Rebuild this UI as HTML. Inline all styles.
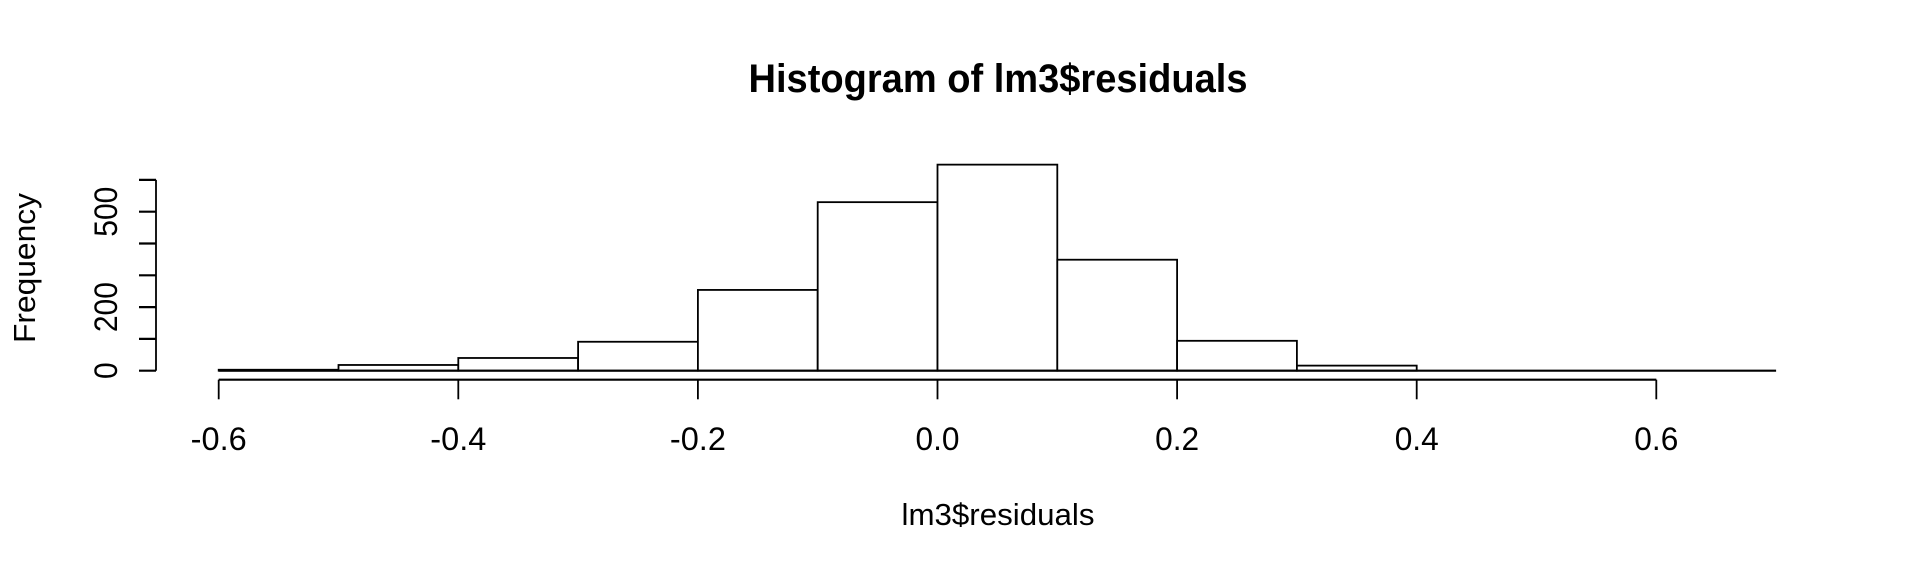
<!DOCTYPE html>
<html><head><meta charset="utf-8"><style>html,body{margin:0;padding:0;background:#fff}svg{display:block}</style></head>
<body>
<svg id="chart" width="1920" height="576" viewBox="0 0 1920 576" xmlns="http://www.w3.org/2000/svg" font-family="'Liberation Sans', Arial, sans-serif">
<rect x="0" y="0" width="1920" height="576" fill="#fff"/>
<text x="998" y="92" text-anchor="middle" font-size="40" font-weight="bold" textLength="499" lengthAdjust="spacingAndGlyphs">Histogram of lm3$residuals</text>
<text x="998" y="525" text-anchor="middle" font-size="31" textLength="193" lengthAdjust="spacingAndGlyphs">lm3$residuals</text>
<text transform="translate(35,268) rotate(-90)" text-anchor="middle" font-size="31" textLength="150" lengthAdjust="spacingAndGlyphs">Frequency</text>
<g id="bars"></g>
<g id="xaxis"></g>
<g id="yaxis"></g>
</svg>
<script>
const binStarts = [-0.6,-0.5,-0.4,-0.3,-0.2,-0.1,0.0,0.1,0.2,0.3,0.4,0.5,0.6];
const binWidth = 0.1;
const counts = [3,18,40,91,254,530,648,349,94,16,0,0,0];
const xTicks = [-0.6,-0.4,-0.2,0.0,0.2,0.4,0.6];
const xTickLabels = ["-0.6","-0.4","-0.2","0.0","0.2","0.4","0.6"];
const yTicks = [0,100,200,300,400,500,600];
const yLabelValues = [0,200,500];
const yLabelTexts = ["0","200","500"];

const NS = "http://www.w3.org/2000/svg";
function xs(v){ return 937.5 + v*1198; }
function ys(c){ return 370.7 - c*0.318; }
function mk(tag, attrs, parent){
  const e = document.createElementNS(NS, tag);
  for (const k in attrs) e.setAttribute(k, attrs[k]);
  parent.appendChild(e);
  return e;
}
const bars = document.getElementById('bars');
binStarts.forEach((s,i)=>{
  const x0 = xs(s), x1 = xs(s+binWidth), y0 = ys(counts[i]), yb = ys(0);
  const r = mk('rect',{x:x0,y:y0,width:x1-x0,height:Math.max(0,yb-y0),fill:'#fff',stroke:'#000','stroke-width':1.8},bars);
  
  
});
const bl = mk('line',{x1:xs(binStarts[0]),x2:xs(binStarts[binStarts.length-1]+binWidth),y1:ys(0),y2:ys(0),stroke:'#000','stroke-width':2.2},bars);



const xa = document.getElementById('xaxis');
const xl = mk('line',{x1:xs(xTicks[0]),x2:xs(xTicks[xTicks.length-1]),y1:379.7,y2:379.7,stroke:'#000','stroke-width':2.2},xa);


xTicks.forEach((v,i)=>{
  const t = mk('line',{x1:xs(v),x2:xs(v),y1:379.7,y2:399.3,stroke:'#000','stroke-width':1.8},xa);
  
  
  const lab = mk('text',{x:xs(v),y:450,'text-anchor':'middle','font-size':32,textLength:xTickLabels[i].length===4?56:44,lengthAdjust:'spacingAndGlyphs'},xa);
  lab.textContent = xTickLabels[i];
  
  
});

const ya = document.getElementById('yaxis');
const yl = mk('line',{x1:156,x2:156,y1:ys(yTicks[yTicks.length-1]),y2:ys(yTicks[0]),stroke:'#000','stroke-width':1.8},ya);


yTicks.forEach(v=>{
  const t = mk('line',{x1:139,x2:156,y1:ys(v),y2:ys(v),stroke:'#000','stroke-width':2.2},ya);
  
  
});
yLabelValues.forEach((v,i)=>{
  const txt = yLabelTexts[i];
  const lab = mk('text',{transform:'translate(117,'+ys(v)+') rotate(-90)','text-anchor':'middle','font-size':32,textLength:txt.length*16.7,lengthAdjust:'spacingAndGlyphs'},ya);
  lab.textContent = txt;
  
  
});
</script>
</body></html>
